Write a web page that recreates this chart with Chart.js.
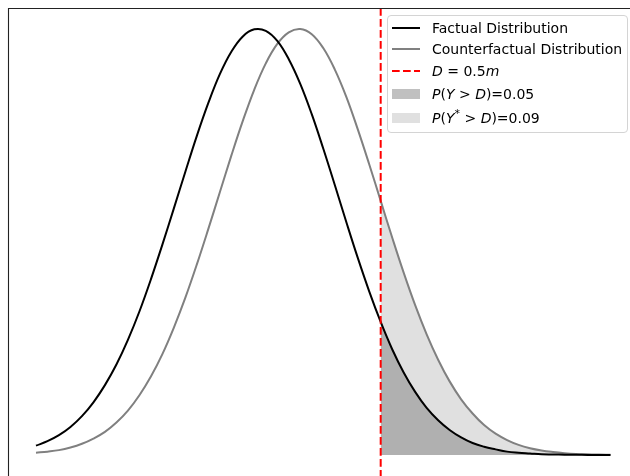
<!DOCTYPE html>
<html>
<head>
<meta charset="utf-8">
<script src="https://cdn.jsdelivr.net/npm/chart.js@4.4.1/dist/chart.umd.min.js"></script>
<style>
  html, body { margin: 0; padding: 0; background: #fff; overflow: hidden; }
  #wrap { position: relative; width: 630px; height: 476px; }
  #legend {
    position: absolute; left: 387px; top: 15px; width: 241px; height: 118px;
    box-sizing: border-box; border: 1px solid #d4d4d4; border-radius: 4px;
    background: rgba(255, 255, 255, 0.8);
    font-family: "DejaVu Sans", sans-serif; font-size: 14px; color: #000;
  }
  .row { position: absolute; left: 4px; height: 18px; display: flex; align-items: center; white-space: nowrap; }
  .handle { width: 28px; height: 10px; margin-right: 12px; position: relative; }
  .line { position: absolute; left: 0; top: 4px; width: 28px; height: 2px; }
  .patch { width: 28px; height: 10px; }
  sup { font-size: 11px; line-height: 0; vertical-align: 6px; }
</style>
</head>
<body>
<div id="wrap">
  <canvas id="densityChart" width="630" height="476"></canvas>
  <div id="legend">
    <div class="row" style="top:3px"><div class="handle"><div class="line" style="background:#000"></div></div>Factual Distribution</div>
    <div class="row" style="top:24px"><div class="handle"><div class="line" style="background:#808080"></div></div>Counterfactual Distribution</div>
    <div class="row" style="top:46px"><div class="handle"><svg width="28" height="10" style="position:absolute;left:0;top:0"><line x1="0" y1="5" x2="28" y2="5" stroke="red" stroke-width="2" stroke-dasharray="7.7 3.3"/></svg></div><span><i>D</i> = 0.5<i>m</i></span></div>
    <div class="row" style="top:69px"><div class="handle"><div class="patch" style="background:#c0c0c0"></div></div><span><i>P</i>(<i>Y</i> &gt; <i>D</i>)=0.05</span></div>
    <div class="row" style="top:93px"><div class="handle"><div class="patch" style="background:#e0e0e0"></div></div><span><i>P</i>(<i>Y</i><sup>*</sup> &gt; <i>D</i>)=0.09</span></div>
  </div>
</div>
<script>
// water level grid (m) and densities
const xs = [-1.00, -0.95, -0.90, -0.85, -0.80, -0.75, -0.70, -0.65, -0.60, -0.55,
            -0.50, -0.45, -0.40, -0.35, -0.30, -0.25, -0.20, -0.15, -0.10, -0.05,
             0.00,  0.05,  0.10,  0.15,  0.20,  0.25,  0.30,  0.35,  0.40,  0.45,
             0.50,  0.55,  0.60,  0.65,  0.70,  0.75,  0.80,  0.85,  0.90,  0.95,
             1.00,  1.05,  1.10,  1.15,  1.20,  1.25,  1.30,  1.35,  1.40,  1.45, 1.50];

const factual = [0.025, 0.037, 0.053, 0.075, 0.104, 0.141, 0.187, 0.242, 0.308, 0.384,
                 0.470, 0.563, 0.660, 0.758, 0.854, 0.942, 1.019, 1.079, 1.120, 1.139,
                 1.135, 1.108, 1.059, 0.993, 0.912, 0.820, 0.723, 0.624, 0.528, 0.438,
                 0.356, 0.283, 0.221, 0.169, 0.126, 0.093, 0.067, 0.047, 0.032, 0.022,
                 0.015, 0.009, 0.006, 0.004, 0.002, 0.0014, 0.0008, 0.0005, 0.0003, 0.0001, 0.0001];

const counterfactual = [0.006, 0.009, 0.013, 0.020, 0.030, 0.044, 0.062, 0.087, 0.119, 0.160,
                        0.210, 0.270, 0.341, 0.421, 0.510, 0.605, 0.703, 0.801, 0.894, 0.978,
                        1.048, 1.100, 1.131, 1.140, 1.126, 1.089, 1.032, 0.959, 0.872, 0.778,
                        0.680, 0.582, 0.488, 0.401, 0.323, 0.255, 0.197, 0.149, 0.111, 0.080,
                        0.057, 0.040, 0.027, 0.018, 0.012, 0.008, 0.005, 0.003, 0.002, 0.001, 0.0006];

const threshold = 0.5;

const pts = ys => xs.map((x, i) => ({ x: x, y: ys[i] }));
const tail = ys => pts(ys).filter(p => p.x >= threshold - 1e-9);

// left/top spines like the matplotlib frame
const framePlugin = {
    id: "frame",
    afterDraw(chart) {
        const { ctx, chartArea: a } = chart;
        ctx.save();
        ctx.strokeStyle = "#222";
        ctx.lineWidth = 1.1;
        ctx.beginPath();
        ctx.moveTo(a.left + 0.5, a.bottom);
        ctx.lineTo(a.left + 0.5, a.top + 0.5);
        ctx.lineTo(a.right, a.top + 0.5);
        ctx.stroke();
        ctx.restore();
    }
};

// dashed vertical line at D
const thresholdPlugin = {
    id: "threshold",
    afterDatasetsDraw(chart) {
        const { ctx, chartArea: a, scales } = chart;
        const px = scales.x.getPixelForValue(threshold);
        ctx.save();
        ctx.strokeStyle = "red";
        ctx.lineWidth = 2;
        ctx.setLineDash([7.7, 3.3]);
        ctx.beginPath();
        ctx.moveTo(px, a.top);
        ctx.lineTo(px, a.bottom);
        ctx.stroke();
        ctx.restore();
    }
};

new Chart(document.getElementById("densityChart"), {
    type: "line",
    data: {
        datasets: [
            {
                label: "Factual Distribution",
                data: pts(factual),
                borderColor: "#000",
                borderWidth: 2,
                fill: false,
                order: 0
            },
            {
                label: "Counterfactual Distribution",
                data: pts(counterfactual),
                borderColor: "#808080",
                borderWidth: 2,
                fill: false,
                order: 0
            },
            {
                label: "P(Y > D)=0.05",
                data: tail(factual),
                borderColor: "rgba(128,128,128,0.5)",
                borderWidth: 0,
                backgroundColor: "rgba(128,128,128,0.5)",
                fill: "origin",
                order: 1
            },
            {
                label: "P(Y* > D)=0.09",
                data: tail(counterfactual),
                borderColor: "rgba(211,211,211,0.7)",
                borderWidth: 0,
                backgroundColor: "rgba(211,211,211,0.7)",
                fill: "origin",
                order: 2
            }
        ]
    },
    options: {
        responsive: false,
        animation: false,
        layout: { padding: { left: 8, top: 8, right: 0, bottom: 0 } },
        elements: {
            point: { radius: 0, hoverRadius: 0 },
            line: { tension: 0.4 }
        },
        plugins: {
            legend: { display: false },
            tooltip: { enabled: false }
        },
        scales: {
            x: { type: "linear", display: false, min: -1.1218, max: 1.5849 },
            y: { display: false, min: -0.0562, max: 1.1961 }
        }
    },
    plugins: [framePlugin, thresholdPlugin]
});
</script>
</body>
</html>
